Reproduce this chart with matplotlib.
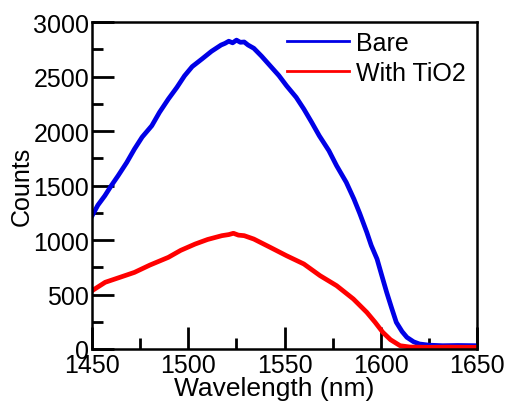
import matplotlib
matplotlib.use("Agg")
import matplotlib.pyplot as plt
from matplotlib.ticker import MultipleLocator

plt.rcParams['font.family'] = ['Liberation Sans', 'DejaVu Sans']

# spectra
bare_nm = [1450, 1453, 1456.6, 1460, 1463.5, 1468, 1472, 1476, 1481, 1485, 1489.6,
           1494, 1498, 1502, 1507, 1512, 1517, 1519, 1521, 1523, 1525, 1527,
           1529, 1531, 1534, 1538, 1542.5, 1547, 1551, 1556, 1560, 1564, 1568,
           1573, 1577, 1582, 1586, 1589, 1592.7, 1595, 1598, 1600.5, 1603,
           1605.5, 1608, 1611, 1613.5, 1617, 1620, 1625, 1632, 1640, 1650]
bare_counts = [1223, 1320, 1406, 1500, 1590, 1712, 1835, 1945, 2049, 2172, 2294,
               2400, 2507, 2592, 2661, 2732, 2790, 2805, 2825, 2810, 2835, 2815,
               2818, 2790, 2760, 2688, 2599, 2510, 2416, 2310, 2202, 2082, 1957,
               1820, 1682, 1530, 1376, 1245, 1070, 950, 826, 672, 520,
               380, 245, 160, 107, 66, 46, 35, 30, 32, 30]

tio2_nm = [1450, 1456.8, 1464, 1472, 1480, 1489.6, 1496, 1503.5, 1510, 1517.4,
           1521, 1523.4, 1526, 1529, 1534, 1542.5, 1551, 1560, 1568.4, 1577,
           1585.7, 1592.7, 1597, 1601, 1605, 1610, 1615, 1625, 1635, 1650]
tio2_counts = [535, 612, 655, 703, 770, 841, 905, 963, 1005, 1040,
               1050, 1062, 1045, 1040, 1009, 933, 856, 780, 673, 581,
               459, 336, 245, 153, 85, 30, 18, 15, 17, 15]

fig = plt.figure(figsize=(5.06, 4.06), dpi=100)
ax = fig.add_axes([0.182, 0.138, 0.761, 0.805])

ax.plot(bare_nm, bare_counts, color='#0000e6', lw=3.4, label='Bare')
ax.plot(tio2_nm, tio2_counts, color='#ff0000', lw=3.4, label='With TiO2')

ax.set_xlim(1450, 1650)
ax.set_ylim(0, 3000)
ax.xaxis.set_major_locator(MultipleLocator(50))
ax.xaxis.set_minor_locator(MultipleLocator(25))
ax.yaxis.set_major_locator(MultipleLocator(500))
ax.yaxis.set_minor_locator(MultipleLocator(250))
ax.tick_params(which='both', direction='in', top=False, right=False,
               width=2, labelsize=18, pad=3)
ax.tick_params(which='major', length=16)
ax.tick_params(which='minor', length=8)
ax.tick_params(axis='y', pad=2)
for s in ax.spines.values():
    s.set_linewidth(1.8)

ax.set_xlabel('Wavelength (nm)', fontsize=19, labelpad=-1)
ax.xaxis.label.set_x(0.474)  # label sits a bit left of centre in the original
ax.set_ylabel('Counts', fontsize=18, labelpad=0)

leg = ax.legend(loc='upper right', frameon=False, fontsize=18, handlelength=2.5,
                handletextpad=0.28, borderaxespad=0, borderpad=0, labelspacing=0.24,
                bbox_to_anchor=(0.971, 0.974))
for h in leg.get_lines():
    h.set_linewidth(2)

fig.savefig('out.png', dpi=100)
